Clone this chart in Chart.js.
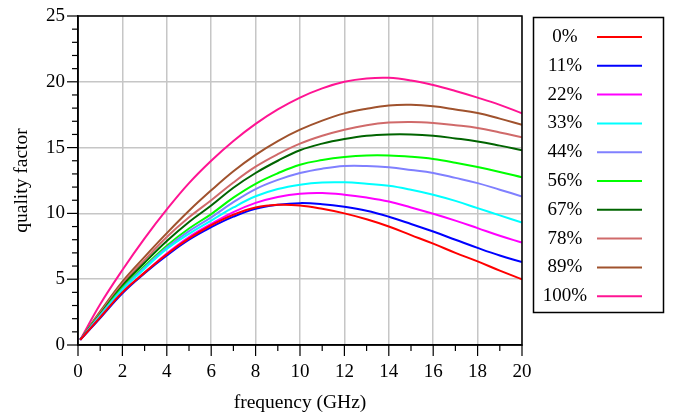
<!DOCTYPE html>
<html>
<head>
<meta charset="utf-8">
<script src="https://cdn.jsdelivr.net/npm/chart.js@4"></script>
<style>
  body { margin: 0; background: #fff; }
  #chart { display: block; }
</style>
</head>
<body>
<canvas id="chart" width="673" height="419"></canvas>
<script>
// frequency in GHz
const freq = [0.1, 1, 2, 3, 4, 5, 6, 7, 8, 9, 10, 11, 12, 13, 14, 15, 16, 17, 18, 19, 20];

// quality factor
const q0   = [0.4, 2.1, 4.0, 5.5, 6.9, 8.1, 9.1, 9.9, 10.45, 10.65, 10.6, 10.35, 10.0, 9.55, 9.0, 8.35, 7.7, 7.0, 6.35, 5.65, 5.0];
const q11  = [0.4, 2.05, 3.93, 5.45, 6.8, 8.0, 8.95, 9.75, 10.35, 10.65, 10.78, 10.7, 10.5, 10.2, 9.75, 9.2, 8.62, 8.0, 7.38, 6.8, 6.3];
const q22  = [0.4, 2.1, 4.0, 5.5, 6.95, 8.2, 9.2, 10.1, 10.8, 11.25, 11.5, 11.55, 11.42, 11.2, 10.9, 10.45, 9.97, 9.45, 8.88, 8.3, 7.78];
const q33  = [0.4, 2.2, 4.2, 5.8, 7.3, 8.45, 9.45, 10.45, 11.3, 11.85, 12.18, 12.35, 12.36, 12.25, 12.1, 11.8, 11.42, 10.95, 10.4, 9.85, 9.3];
const q44  = [0.4, 2.25, 4.25, 5.9, 7.4, 8.65, 9.7, 10.85, 11.85, 12.55, 13.07, 13.4, 13.6, 13.6, 13.5, 13.3, 13.07, 12.7, 12.3, 11.8, 11.29];
const q56  = [0.4, 2.3, 4.35, 6.0, 7.55, 8.85, 9.95, 11.2, 12.25, 13.05, 13.7, 14.05, 14.28, 14.4, 14.4, 14.3, 14.13, 13.85, 13.52, 13.15, 12.74];
const q67  = [0.4, 2.35, 4.5, 6.25, 7.9, 9.35, 10.6, 11.95, 13.07, 14.0, 14.8, 15.3, 15.65, 15.9, 16.0, 16.0, 15.9, 15.7, 15.47, 15.15, 14.8];
const q78  = [0.4, 2.45, 4.65, 6.45, 8.2, 9.7, 11.0, 12.35, 13.55, 14.5, 15.3, 15.9, 16.36, 16.7, 16.9, 16.95, 16.87, 16.7, 16.49, 16.15, 15.78];
const q89  = [0.4, 2.55, 4.82, 6.7, 8.5, 10.2, 11.75, 13.2, 14.45, 15.5, 16.36, 17.05, 17.6, 17.95, 18.2, 18.25, 18.14, 17.9, 17.63, 17.2, 16.74];
const q100 = [0.4, 3.1, 5.7, 8.1, 10.3, 12.3, 14.0, 15.5, 16.8, 17.9, 18.8, 19.5, 20.0, 20.25, 20.3, 20.1, 19.75, 19.3, 18.8, 18.25, 17.6];

const seriesLabels = ["0%", "11%", "22%", "33%", "44%", "56%", "67%", "78%", "89%", "100%"];
const seriesValues = [q0, q11, q22, q33, q44, q56, q67, q78, q89, q100];
const seriesColors = ["#ff0000", "#0000ff", "#ff00ff", "#00ffff", "#8080ff", "#00ff00", "#006400", "#d06a6a", "#a0522d", "#ff1493"];

const serif = '"Liberation Serif", "Times New Roman", serif';

// ticks, frame and the boxed legend on the right
const framePlugin = {
  id: "frame",
  afterDraw(chart) {
    const c = chart.ctx;
    const a = chart.chartArea;
    const xs = chart.scales.x;
    const ys = chart.scales.y;
    c.save();
    c.strokeStyle = "#000";
    c.lineWidth = 1.5;
    c.strokeRect(a.left, a.top, a.right - a.left, a.bottom - a.top);

    c.lineWidth = 1.2;
    for (let v = 0; v <= 25; v++) {
      let y = ys.getPixelForValue(v);
      let len = v % 5 === 0 ? 11 : 6;
      c.beginPath();
      c.moveTo(a.left - len, y);
      c.lineTo(a.left, y);
      c.stroke();
    }
    for (let v = 0; v <= 20; v++) {
      let x = xs.getPixelForValue(v);
      let len = v % 2 === 0 ? 11 : 6;
      c.beginPath();
      c.moveTo(x, a.bottom);
      c.lineTo(x, a.bottom + len);
      c.stroke();
    }

    // legend
    c.lineWidth = 1.5;
    c.strokeRect(533.5, 17.5, 130, 295);
    c.font = "19px " + serif;
    c.fillStyle = "#000";
    c.textAlign = "center";
    c.textBaseline = "middle";
    chart.data.datasets.forEach((ds, i) => {
      let y = 37 + i * 28.8;
      c.fillText(ds.label, 565, y);
      c.strokeStyle = ds.borderColor;
      c.lineWidth = 2;
      c.beginPath();
      c.moveTo(597, y);
      c.lineTo(642, y);
      c.stroke();
    });
    c.restore();
  },
};

new Chart(document.getElementById("chart"), {
  type: "line",
  data: {
    datasets: seriesLabels.map((label, i) => ({
      label: label,
      data: freq.map((f, j) => ({ x: f, y: seriesValues[i][j] })),
      borderColor: seriesColors[i],
      borderWidth: 2,
      pointRadius: 0,
      fill: false,
      tension: 0.4,
    })),
  },
  options: {
    responsive: false,
    animation: false,
    layout: { padding: { top: 16, right: 151, bottom: 0, left: 0 } },
    plugins: { legend: { display: false }, tooltip: { enabled: false } },
    scales: {
      x: {
        type: "linear",
        min: 0,
        max: 20,
        afterFit(s) { s.height = 74; s.paddingLeft = 0; s.paddingRight = 0; },
        ticks: { stepSize: 2, padding: 16, color: "#000", font: { family: serif, size: 19 } },
        grid: { color: "#c6c6c6", lineWidth: 1.5, drawTicks: false },
        border: { color: "#000", width: 1.5 },
        title: { display: true, text: "frequency (GHz)", color: "#000", font: { family: serif, size: 19.5 }, padding: { top: 0, bottom: 4 } },
      },
      y: {
        min: 0,
        max: 25,
        afterFit(s) { s.width = 78; s.paddingTop = 0; s.paddingBottom = 0; },
        ticks: { stepSize: 5, padding: 13, color: "#000", font: { family: serif, size: 19 } },
        grid: { color: "#c6c6c6", lineWidth: 1.5, drawTicks: false },
        border: { color: "#000", width: 1.5 },
        title: { display: true, text: "quality factor", color: "#000", font: { family: serif, size: 19.5 }, padding: { top: 10, bottom: 0 } },
      },
    },
  },
  plugins: [framePlugin],
});
</script>
</body>
</html>
